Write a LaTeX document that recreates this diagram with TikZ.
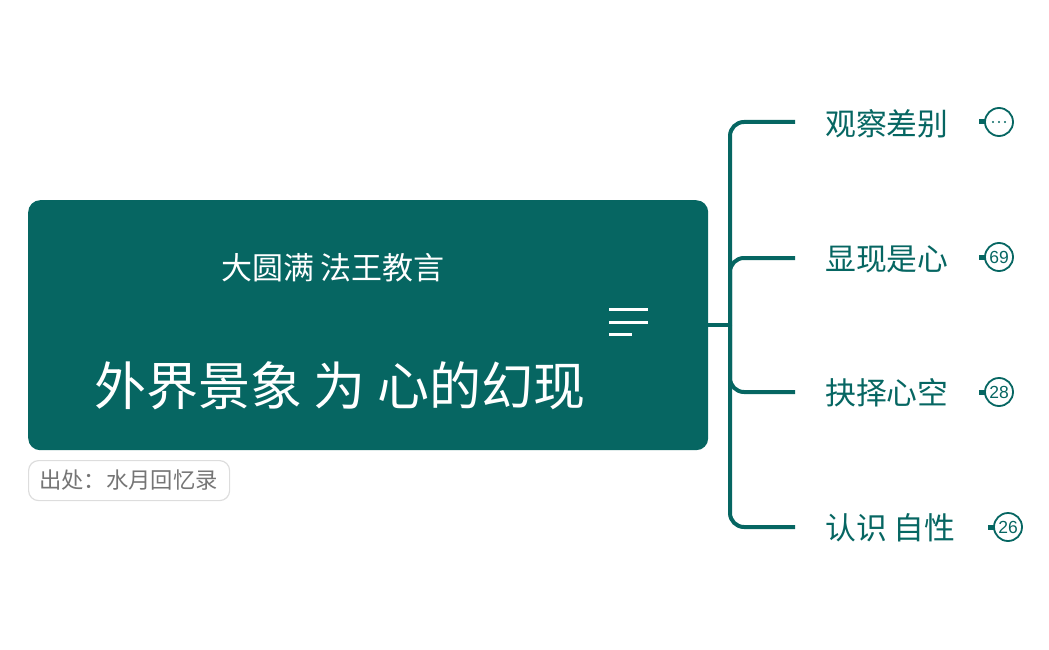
\documentclass[tikz,border=0pt]{standalone}
\usepackage{fontspec}
\usetikzlibrary{calc}
\setmainfont{Noto Sans CJK SC}
\newfontfamily\numfont{Liberation Sans}
\definecolor{teal1}{HTML}{066662}
\definecolor{graytxt}{HTML}{757575}
\definecolor{grayline}{HTML}{DDDDDD}
\tikzset{
  branch/.style={draw=teal1, line width=4pt, rounded corners=14pt},
  leaf/.style={text=teal1, anchor=west, inner sep=0pt, font=\fontsize{30.8}{33}\selectfont},
  badge/.style={circle, draw=teal1, line width=1.8pt, minimum size=28pt, inner sep=0pt, text=teal1, font=\numfont\fontsize{17.5}{18}\selectfont},
  tab/.style={fill=teal1, minimum width=7pt, minimum height=5pt, inner sep=0pt},
  menuline/.style={draw=white, line width=3pt},
}
\begin{document}
\begin{tikzpicture}[x=1pt,y=-1pt]
\useasboundingbox (0,0) rectangle (1049,650);
% main box
\node[fill=teal1, rounded corners=12pt, minimum width=680pt, minimum height=250pt, inner sep=0pt, anchor=north west] (root) at (28,200) {};
\node[text=white, inner sep=0pt, font=\fontsize{31}{33}\selectfont] (sub) at (333,268) {大圆满 法王教言};
\node[text=white, inner sep=0pt, font=\fontsize{52}{55}\selectfont] (title) at (340,386) {外界景象 为 心的幻现};
% menu icon
\draw[menuline] (609,309) -- (648,309);
\draw[menuline] (609,322) -- (648,322);
\draw[menuline] (609,334) -- (632,334);
% source
\node[draw=grayline, line width=1.2pt, rounded corners=10pt, minimum width=201pt, minimum height=40pt, inner sep=0pt, anchor=north west] (src) at (28,460) {};
\node[text=graytxt, anchor=west, inner sep=0pt, font=\fontsize{22.3}{24}\selectfont] (srctxt) at (39,480) {出处：水月回忆录};
% branch anchors
\coordinate (hub) at (708,325);
\coordinate (j) at (730,325);
\coordinate (k1) at (795,122);
\coordinate (k2) at (795,258);
\coordinate (k3) at (795,392);
\coordinate (k4) at (795,527);
\draw[draw=teal1, line width=4pt] (hub) -- (j);
\draw[branch] (j) |- (k1);
\draw[branch] (j) |- (k2);
\draw[branch] (j) |- (k3);
\draw[branch] (j) |- (k4);
% leaves
\node[leaf] (l1) at (825,124) {观察差别};
\node[leaf] (l2) at (825,259) {显现是心};
\node[leaf] (l3) at (825,393) {抉择心空};
\node[leaf] (l4) at (825,528) {认识 自性};
% badges
\node[tab] (t1) at (982,122) {};
\node[badge] (b1) at (999,122) {};
\foreach \dx in {-6,0,6} \fill[teal1] ($(b1)+(\dx,0)$) circle (1.2pt);
\node[tab] (t2) at (982,257) {};
\node[badge] (b2) at (999,257) {69};
\node[tab] (t3) at (982,392) {};
\node[badge] (b3) at (999,392) {28};
\node[tab] (t4) at (991,527) {};
\node[badge] (b4) at (1008,527) {26};
\end{tikzpicture}
\end{document}
